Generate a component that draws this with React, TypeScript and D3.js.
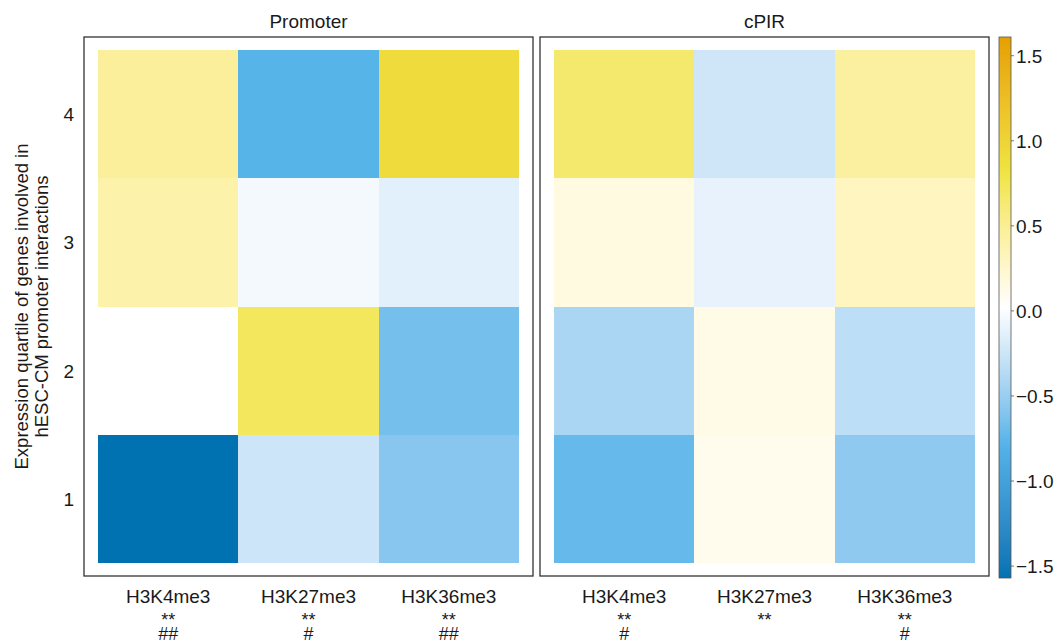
import React from 'react';
import * as d3 from 'd3';

// marks and expression quartiles
const marks = ['H3K4me3', 'H3K27me3', 'H3K36me3'];
const quartiles = [1, 2, 3, 4];

// z-scores per mark, quartile 1..4
const promoterValues = [
  [-1.57, 0.02, 0.4, 0.47],
  [-0.25, 0.72, -0.04, -0.78],
  [-0.58, -0.66, -0.14, 0.92],
];
const cpirValues = [
  [-0.72, -0.42, 0.16, 0.66],
  [0.1, 0.13, -0.11, -0.24],
  [-0.55, -0.33, 0.3, 0.45],
];

// significance marks under the x labels
const promoterStars = ['**', '**', '**'];
const promoterHashes = ['##', '#', '##'];
const cpirStars = ['**', '**', '**'];
const cpirHashes = ['#', '', '#'];

const panels = [
  { title: 'Promoter', values: promoterValues, stars: promoterStars, hashes: promoterHashes },
  { title: 'cPIR', values: cpirValues, stars: cpirStars, hashes: cpirHashes },
];

const colorTicks = [-1.5, -1.0, -0.5, 0.0, 0.5, 1.0, 1.5];
const fillMin = -1.57;
const fillMax = 1.61;
const palette = ['#0072B2', '#56B4E9', '#FFFFFF', '#F0E442', '#E69F00'];

const width = 1057;
const height = 642;
const font = '"Liberation Sans", Arial, Helvetica, sans-serif';

const App = () => {
  const top = 37;
  const bottom = 576;
  const panelX = [84, 540];
  const panelW = 449;

  const color = d3
    .scaleLinear<string>()
    .domain(palette.map((_, i) => fillMin + (i * (fillMax - fillMin)) / (palette.length - 1)))
    .range(palette)
    .interpolate(d3.interpolateLab);

  const y = d3.scaleLinear().domain([0.4, 4.6]).range([bottom, top]);

  // colour bar
  const barX = 999;
  const barW = 12;
  const barTop = 37;
  const barBottom = 578;
  const cy = d3.scaleLinear().domain([fillMin, fillMax]).range([barBottom, barTop]);
  const stops = d3.range(0, 1.0001, 0.02);
  const fmt = (v: number) => (v < 0 ? '\u2212' : '') + Math.abs(v).toFixed(1);

  return (
    <svg width={width} height={height} style={{ position: 'absolute', left: 0, top: 0, background: '#fff' }} fontFamily={font}>
      <defs>
        <linearGradient id="bar" x1="0" y1="1" x2="0" y2="0">
          {stops.map((t) => (
            <stop key={t} offset={t} stopColor={color(fillMin + t * (fillMax - fillMin))} />
          ))}
        </linearGradient>
      </defs>

      {/* y axis title */}
      <g transform={`translate(28,${(top + bottom) / 2}) rotate(-90)`}>
        <text textAnchor="middle" fontSize={18.5} fill="#1a1a1a">Expression quartile of genes involved in</text>
      </g>
      <g transform={`translate(48,${(top + bottom) / 2}) rotate(-90)`}>
        <text textAnchor="middle" fontSize={18.5} fill="#1a1a1a">hESC-CM promoter interactions</text>
      </g>

      {/* y tick labels */}
      {quartiles.map((q) => (
        <text key={q} x={74} y={y(q) + 7} textAnchor="end" fontSize={19} fill="#1a1a1a">
          {q}
        </text>
      ))}

      {panels.map((p, pi) => {
        const x = d3.scaleLinear().domain([0.4, 3.6]).range([panelX[pi], panelX[pi] + panelW]);
        return (
          <g key={p.title}>
            <text x={x(2)} y={28} textAnchor="middle" fontSize={19} fill="#1a1a1a">
              {p.title}
            </text>
            {p.values.map((col, mi) =>
              col.map((v, qi) => (
                <rect
                  key={`${mi}-${qi}`}
                  x={x(mi + 0.5)}
                  y={y(quartiles[qi] + 0.5)}
                  width={x(mi + 1.5) - x(mi + 0.5)}
                  height={y(quartiles[qi] - 0.5) - y(quartiles[qi] + 0.5)}
                  fill={color(v)}
                  shapeRendering="crispEdges"
                />
              ))
            )}
            <rect x={x(0.4)} y={top} width={panelW} height={bottom - top} fill="none" stroke="#333" strokeWidth={1.3} />
            {marks.map((m, mi) => (
              <g key={m} fill="#1a1a1a" textAnchor="middle">
                <text x={x(mi + 1)} y={603} fontSize={19}>{m}</text>
                <text x={x(mi + 1)} y={626} fontSize={18}>{p.stars[mi]}</text>
                <text x={x(mi + 1)} y={640} fontSize={18}>{p.hashes[mi]}</text>
              </g>
            ))}
          </g>
        );
      })}

      {/* colour bar */}
      <rect x={barX} y={barTop} width={barW} height={barBottom - barTop} fill="url(#bar)" stroke="#555" strokeWidth={0.8} />
      {colorTicks.map((t) => (
        <g key={t}>
          <line x1={barX + barW} x2={barX + barW + 3} y1={cy(t)} y2={cy(t)} stroke="#555" strokeWidth={0.8} />
          <text x={barX + barW + 5} y={cy(t) + 7} fontSize={19} fill="#1a1a1a">
            {fmt(t)}
          </text>
        </g>
      ))}
    </svg>
  );
};

export default App;
